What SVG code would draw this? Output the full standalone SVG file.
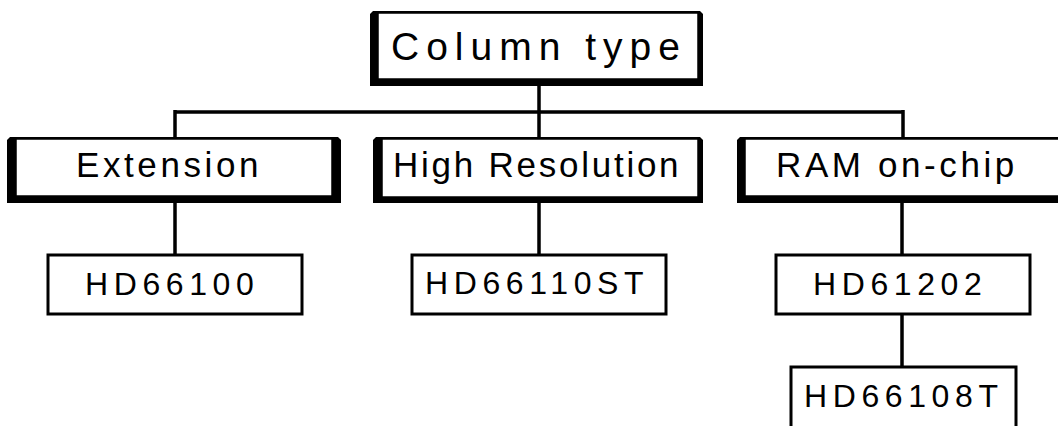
<svg xmlns="http://www.w3.org/2000/svg" width="1058" height="426" viewBox="0 0 1058 426">
<style>
.shadow{fill:#000}
.face{fill:#fff;stroke:#000;stroke-width:1.5}
.box{fill:#fff;stroke:#000;stroke-width:3}
.conn{stroke:#000;stroke-width:3.5;fill:none}
text{font-family:"Liberation Sans",Arial,sans-serif;fill:#000}
.t1{font-size:39px;letter-spacing:7px}
.t2{font-size:35px;letter-spacing:3.6px}
.t2h{letter-spacing:2.75px}
.t3{font-size:32px;letter-spacing:5.6px}
</style>
<rect width="1058" height="426" fill="#fff"/>
<g id="connectors">
<path class="conn" d="M539,84V112M175,112H903M175,110V139M539,110V139M903,110V139"/>
<path class="conn" d="M175,202V256M539,202V256M902,202V256M902,313V368"/>
</g>
<g id="n-column">
<polygon class="shadow" points="373,11 700,11 703,14 703,86 370,86 370,14"/>
<rect class="face" x="378" y="13" width="320" height="66"/>
<text class="t1" x="391" y="60">Column type</text>
</g>
<g id="n-extension">
<polygon class="shadow" points="10,137 338,137 341,140 341,203 7,203 7,140"/>
<rect class="face" x="16" y="139" width="316" height="57"/>
<text class="t2" x="76" y="177">Extension</text>
</g>
<g id="n-highres">
<polygon class="shadow" points="376,137 700,137 703,140 703,203 373,203 373,140"/>
<rect class="face" x="382" y="139" width="316" height="58"/>
<text class="t2 t2h" x="393" y="177">High Resolution</text>
</g>
<g id="n-ram">
<polygon class="shadow" points="740,137 1070,137 1070,203 737,203 737,140"/>
<rect class="face" x="745" y="139" width="330" height="57"/>
<text class="t2" x="776" y="177">RAM on-chip</text>
</g>
<g id="n-hd66100">
<rect class="box" x="48" y="255" width="254" height="59"/>
<text class="t3" x="85" y="295">HD66100</text>
</g>
<g id="n-hd66110st">
<rect class="box" x="412" y="255" width="254" height="59"/>
<text class="t3" x="425" y="294">HD66110ST</text>
</g>
<g id="n-hd61202">
<rect class="box" x="776" y="255" width="254" height="59"/>
<text class="t3" x="813" y="295">HD61202</text>
</g>
<g id="n-hd66108t">
<rect class="box" x="791" y="367" width="225" height="70"/>
<text class="t3" x="804" y="407">HD66108T</text>
</g>
</svg>
